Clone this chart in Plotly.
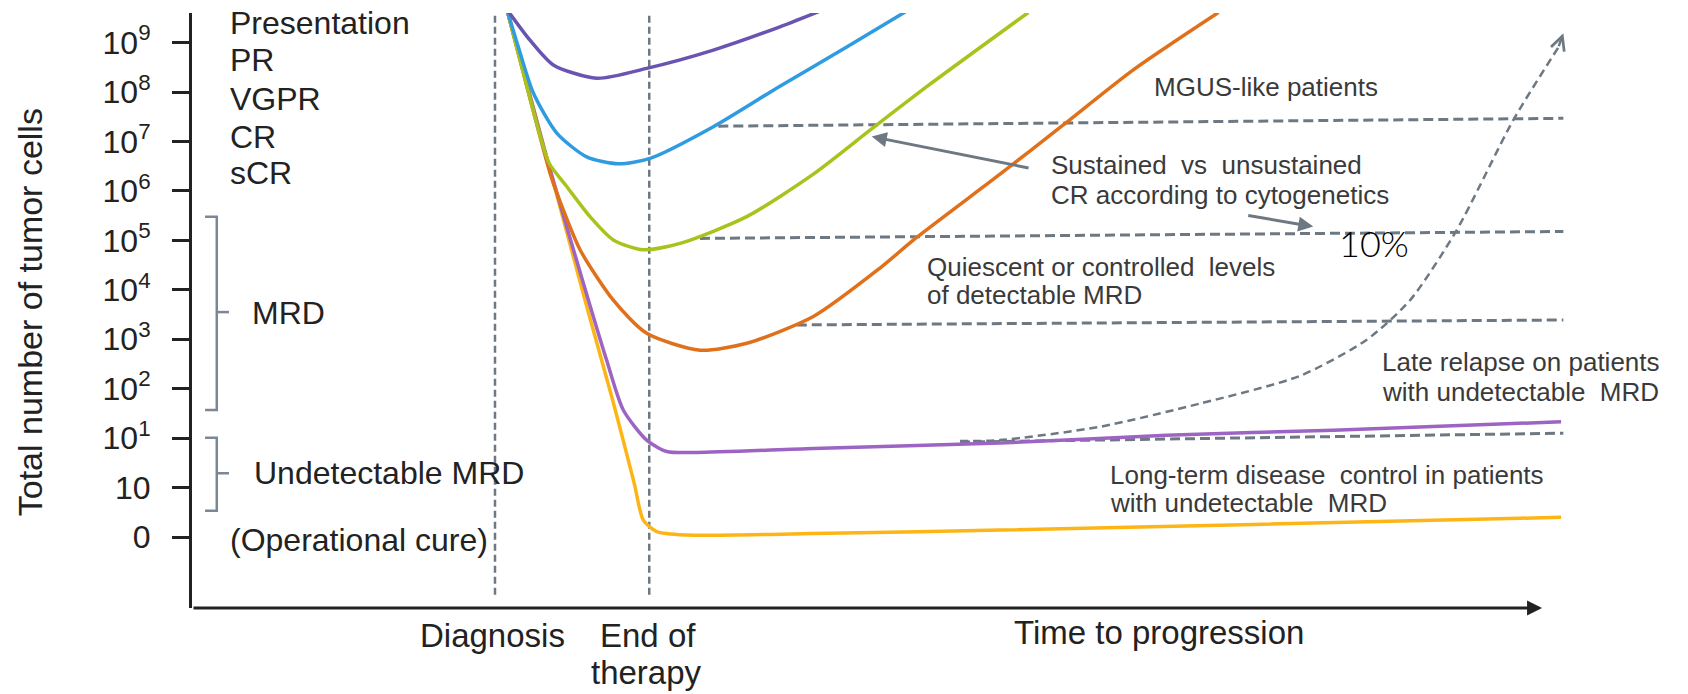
import plotly.graph_objects as go

# ---- data (x: time units, axis arrow at 100; y: level index 0 -> "0", 1 -> "10", 2 -> 10^1 ... 10 -> 10^9)
tick_vals = list(range(11))
tick_text = ["0", "10"] + [f"10<sup>{i}</sup>" for i in range(1, 10)]

pr_t = [23.4, 25.11, 26.84, 30.07, 33.78, 38.73, 43.68, 47.03]
pr_v = [10.67, 10.05, 9.55, 9.28, 9.48, 9.85, 10.32, 10.68]

vgpr_t = [23.4, 24.2, 25.36, 27.10, 29.32, 31.67, 34.03, 38.73, 43.68, 48.64, 53.34]
vgpr_v = [10.67, 9.95, 8.98, 8.17, 7.69, 7.55, 7.66, 8.30, 9.12, 9.91, 10.68]

cr_t = [23.4, 25.95, 26.55, 27.84, 29.57, 31.30, 33.53, 36.26, 41.21, 46.16, 50.37, 54.83, 62.13]
cr_v = [10.67, 8.03, 7.55, 7.09, 6.48, 6.01, 5.81, 5.94, 6.48, 7.34, 8.23, 9.16, 10.61]

scr_t = [23.4, 26.6, 27.21, 28.83, 31.30, 33.78, 37.74, 41.21, 46.16, 51.11, 53.79, 60.03, 64.61, 69.93, 76.25]
scr_v = [10.67, 7.36, 6.88, 5.81, 4.79, 4.12, 3.78, 3.92, 4.46, 5.44, 6.05, 7.34, 8.31, 9.45, 10.61]

mrd_t = [23.4, 26.48, 29.45, 30.8, 32.04, 33.78, 35.27, 37.50, 46.16, 60.03, 72.41, 84.79, 101.71]
mrd_v = [10.67, 7.55, 4.79, 3.58, 2.57, 1.96, 1.73, 1.71, 1.79, 1.90, 2.06, 2.16, 2.33]

cure_t = [23.4, 29.2, 31.25, 32.85, 33.53, 34.52, 36.75, 46.16, 60.03, 98.66, 101.71]
cure_v = [10.67, 4.79, 2.77, 1.09, 0.34, 0.11, 0.04, 0.07, 0.14, 0.38, 0.40]

relapse_t = [57.06, 60.03, 67.46, 74.89, 82.32, 87.27, 90.49, 93.96, 98.17, 101.5]
relapse_v = [1.94, 1.96, 2.23, 2.70, 3.26, 3.99, 4.79, 6.21, 8.44, 9.9]

# horizontal reference levels (start, end)
mgus_t, mgus_v = [39.10, 101.88], [8.31, 8.47]
sust_t, sust_v = [37.74, 101.88], [6.04, 6.18]
quies_t, quies_v = [44.93, 101.88], [4.29, 4.39]
undet_t, undet_v = [57.06, 101.88], [1.92, 2.10]

diagnosis_t = 22.51
end_therapy_t = 33.97
vline_v = [-1.17, 10.6]

mrd_bracket_v = [6.48, 4.55, 2.57]      # top, middle, bottom
undet_bracket_v = [2.01, 1.29, 0.53]

FONT = "Liberation Sans, Arial, sans-serif"
GRAY = "#6d7883"
TXT = "#3a3a3a"

fig = go.Figure()


def line(x, y, color, width=3.5, dash=None, shape="spline", smoothing=0.7):
    fig.add_trace(go.Scatter(
        x=x, y=y, mode="lines", cliponaxis=False, hoverinfo="skip",
        line=dict(color=color, width=width, dash=dash, shape=shape,
                  smoothing=smoothing if shape == "spline" else None)))


# reference dashed lines
for tx, vy in [(mgus_t, mgus_v), (sust_t, sust_v), (quies_t, quies_v), (undet_t, undet_v)]:
    line(tx, vy, GRAY, width=3, dash="10px,5px", shape="linear")
for tv in [diagnosis_t, end_therapy_t]:
    line([tv, tv], vline_v, GRAY, width=2.5, dash="7px,4px", shape="linear")
line(relapse_t, relapse_v, GRAY, width=2.5, dash="8px,5px")

# response curves
line(cure_t, cure_v, "#fdb515")
line(mrd_t, mrd_v, "#9d64c3")
line(scr_t, scr_v, "#e0701a")
line(cr_t, cr_v, "#a8c41c")
line(vgpr_t, vgpr_v, "#2f9be0")
line(pr_t, pr_v, "#6a54b2")

# brackets
bx_left, bx_mid, bx_tick = 0.97, 1.84, 2.75
for bv in [mrd_bracket_v, undet_bracket_v]:
    line([bx_left, bx_mid, bx_mid, bx_left], [bv[0], bv[0], bv[2], bv[2]], "#7b8794", width=2.5, shape="linear")
    line([bx_mid, bx_tick], [bv[1], bv[1]], "#7b8794", width=2.5, shape="linear")

ann = []


def text(x, y, s, size=26, color=TXT, xanchor="left", family=FONT, ref="data", weight=None, **kw):
    xr, yr = ("x", "y") if ref == "data" else ("paper", "paper")
    font = dict(family=family, size=size, color=color)
    if weight:
        font["weight"] = weight
    ann.append(dict(x=x, y=y, xref=xr, yref=yr, text=s, showarrow=False,
                    xanchor=xanchor, yanchor="middle", font=font, **kw))


# left labels
for s, v in [("Presentation", 10.40), ("PR", 9.65), ("VGPR", 8.87), ("CR", 8.10), ("sCR", 7.36)]:
    text(2.67, v, s, size=32, color="#222")
text(4.31, 4.53, "MRD", size=32, color="#222")
text(4.46, 1.29, "Undetectable MRD", size=32, color="#222")
text(2.67, -0.06, "(Operational cure)", size=32, color="#222")

# x labels (paper coordinates, below the plot area)
text(0.2009, -0.0454, "Diagnosis", size=33, color="#222", xanchor="center", ref="paper")
text(0.3048, -0.0454, "End of", size=33, color="#222", xanchor="center", ref="paper")
text(0.3041, -0.1090, "therapy", size=33, color="#222", xanchor="center", ref="paper")
text(0.6464, -0.0420, "Time to progression", size=33, color="#222", xanchor="center", ref="paper")

# right annotations
NB = "\u00a0"
text(71.30, 9.11, "MGUS-like patients")
text(63.69, 7.53, f"Sustained {NB}vs {NB}unsustained")
text(63.69, 6.92, "CR according to cytogenetics")
text(85.04, 5.95, "10%", size=36, color="#000", family="Lato, sans-serif", weight=300)
text(54.46, 5.47, f"Quiescent or controlled {NB}levels")
text(54.46, 4.90, "of detectable MRD")
text(88.26, 3.55, "Late relapse on patients")
text(88.26, 2.94, f"with undetectable {NB}MRD")
text(68.08, 1.25, f"Long-term disease {NB}control in patients")
text(68.08, 0.68, f"with undetectable {NB}MRD")

# y axis title
ann.append(dict(x=-0.1083, y=0.497, xref="paper", yref="paper", text="Total number of tumor cells",
                showarrow=False, textangle=-90, xanchor="center", yanchor="middle",
                font=dict(family=FONT, size=34, color="#222")))


# arrows
def arrow(x0, y0, x1, y1, head=2, size=1.0, width=3, color=GRAY):
    ann.append(dict(x=x1, y=y1, ax=x0, ay=y0, xref="x", yref="y", axref="x", ayref="y",
                    text="", showarrow=True, arrowhead=head, arrowsize=size,
                    arrowwidth=width, arrowcolor=color, standoff=0, startstandoff=0))


arrow(62.26, 7.46, 50.50, 8.10)
arrow(78.36, 6.51, 83.30, 6.28)
arrow(relapse_t[-1], relapse_v[-1], 101.88, 10.19, head=5, size=1.1, width=2.5)
# x axis with arrow
arrow(0, -1.436, 100.3, -1.436, head=2, size=1.0, width=3, color="#222")

fig.update_layout(
    width=1688, height=694,
    margin=dict(l=192, r=0, t=13, b=86),
    paper_bgcolor="white", plot_bgcolor="white",
    showlegend=False,
    annotations=ann,
    xaxis=dict(range=[0, 111.14], visible=False, fixedrange=True),
    yaxis=dict(range=[-1.436, 10.6], tickvals=tick_vals, ticktext=tick_text,
               ticks="outside", ticklen=17, tickwidth=3, tickcolor="#222",
               showline=True, linewidth=3, linecolor="#222",
               showgrid=False, zeroline=False, ticklabelstandoff=15,
               tickfont=dict(family=FONT, size=32, color="#222"), fixedrange=True),
)

fig.write_html("out.html")
